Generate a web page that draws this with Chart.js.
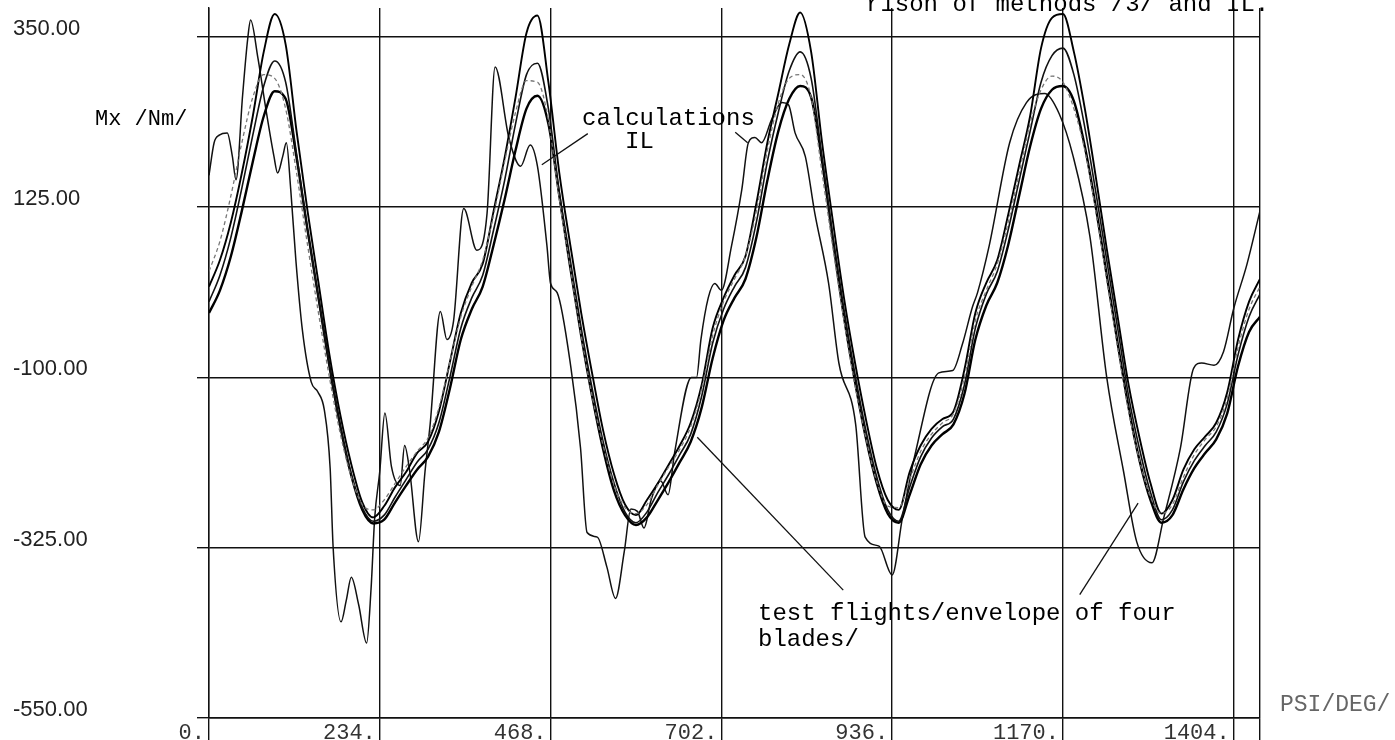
<!DOCTYPE html>
<html>
<head>
<meta charset="utf-8">
<title>Mx /Nm/ - PSI /DEG/</title>
<script src="https://cdn.jsdelivr.net/npm/chart.js@4.4.1/dist/chart.umd.min.js"></script>
<style>
  html, body { margin: 0; padding: 0; background: #fff; }
  #wrap { width: 1395px; height: 740px; position: relative; }
</style>
</head>
<body>
<div id="wrap"><canvas id="mxChart"></canvas></div>
<script>
"use strict";

// azimuth (deg) for the four blade traces of the test flights
const psiGrid = [
  0, 15, 30, 45, 60, 75, 90, 105,
  120, 135, 150, 165, 180, 195, 210, 225,
  240, 255, 270, 285, 300, 315, 330, 345,
  360, 375, 390, 405, 420, 435, 450, 465,
  480, 495, 510, 525, 540, 555, 570, 585,
  600, 615, 630, 645, 660, 675, 690, 705,
  720, 735, 750, 765, 780, 795, 810, 825,
  840, 855, 870, 885, 900, 915, 930, 945,
  960, 975, 990, 1005, 1020, 1035, 1050, 1065,
  1080, 1095, 1110, 1125, 1140, 1155, 1170, 1185,
  1200, 1215, 1230, 1245, 1260, 1275, 1290, 1305,
  1320, 1335, 1350, 1365, 1380, 1395, 1410, 1425,
  1440
];

// test flights / envelope of four blades, Mx in Nm
const bladeA = [
  20, 55, 105, 170, 245, 330, 380, 340,
  225, 120, 25, -70, -150, -215, -265, -285,
  -270, -245, -225, -200, -185, -145, -80, -15,
  25, 50, 120, 190, 270, 355, 378, 290,
  170, 75, -15, -95, -170, -228, -268, -282,
  -262, -240, -215, -190, -160, -110, -35, 5,
  35, 60, 130, 210, 275, 340, 382, 330,
  210, 105, 5, -80, -155, -220, -262, -275,
  -225, -190, -168, -155, -145, -90, -15, 25,
  55, 115, 180, 245, 335, 375, 380, 330,
  255, 165, 70, -20, -110, -180, -240, -280,
  -262, -222, -195, -178, -160, -120, -50, 0,
  30
];
const bladeB = [
  0, 35, 85, 150, 220, 285, 318, 290,
  195, 95, 5, -85, -165, -228, -272, -290,
  -282, -258, -235, -212, -195, -160, -100, -35,
  5, 35, 95, 160, 235, 300, 315, 255,
  145, 55, -35, -115, -185, -240, -278, -292,
  -278, -252, -228, -202, -175, -125, -55, -10,
  20, 45, 105, 185, 250, 305, 330, 295,
  190, 85, -10, -95, -170, -232, -275, -290,
  -245, -205, -180, -165, -155, -110, -35, 10,
  40, 95, 160, 225, 290, 325, 335, 300,
  230, 145, 55, -35, -125, -195, -252, -288,
  -275, -238, -210, -190, -172, -135, -70, -20,
  10
];
const bladeC = [
  40, 80, 140, 210, 270, 300, 295, 255,
  170, 75, -15, -100, -175, -232, -268, -275,
  -262, -240, -218, -198, -180, -140, -80, -20,
  20, 55, 115, 185, 250, 292, 290, 240,
  135, 45, -45, -125, -190, -242, -272, -280,
  -268, -242, -218, -195, -165, -115, -45, 0,
  30, 60, 120, 200, 262, 295, 300, 270,
  170, 70, -25, -110, -180, -238, -270, -272,
  -235, -198, -175, -160, -148, -100, -25, 15,
  50, 105, 170, 235, 280, 298, 290, 255,
  200, 120, 30, -60, -145, -210, -258, -280,
  -268, -232, -202, -182, -165, -128, -60, -10,
  20
];
const bladeD = [
  -15, 15, 60, 120, 185, 245, 278, 268,
  190, 95, 5, -85, -165, -230, -275, -293,
  -288, -265, -243, -222, -205, -172, -115, -50,
  -10, 20, 75, 135, 200, 255, 272, 235,
  140, 45, -45, -125, -195, -250, -282, -295,
  -285, -262, -238, -212, -185, -140, -75, -25,
  5, 30, 85, 160, 225, 268, 285, 270,
  185, 80, -20, -105, -180, -240, -280, -292,
  -255, -215, -190, -175, -162, -122, -50, -5,
  25, 75, 140, 205, 255, 280, 285, 265,
  205, 125, 35, -55, -140, -210, -262, -292,
  -282, -248, -220, -200, -182, -148, -85, -40,
  -20
];

// calculations IL
const ilPsi = [
  0, 7, 14, 25, 32, 37, 46, 53, 57, 67,
  78, 89, 94, 101, 106, 112, 119, 128, 140, 149,
  158, 166, 170, 181, 188, 195, 205, 216, 222, 227,
  234, 241, 250, 262, 268, 275, 287, 296, 303, 317,
  326, 335, 349, 367, 381, 392, 411, 427, 440, 450,
  463, 468, 477, 496, 509, 518, 532, 545, 557, 569,
  578, 587, 596, 606, 619, 629, 638, 661, 668, 674,
  684, 693, 702, 716, 730, 739, 748, 757, 771, 785,
  794, 803, 817, 830, 849, 863, 886, 899, 918, 936,
  950, 968, 1000, 1019, 1032, 1046, 1053, 1069, 1097, 1120,
  1145, 1165, 1184, 1207, 1230, 1253, 1271, 1292, 1308, 1331,
  1349, 1360, 1377, 1390, 1404, 1422, 1440
];
const ilMx = [
  167, 210, 220, 223, 192, 161, 272, 347, 372, 322,
  254, 192, 170, 192, 210, 148, 55, -38, -106, -119,
  -143, -220, -323, -423, -395, -364, -400, -451, -380, -286,
  -224, -147, -218, -243, -190, -224, -317, -224, -162, -13,
  -50, -26, 123, 68, 117, 310, 216, 179, 207, 179,
  74, 24, 12, -88, -193, -305, -311, -350, -392, -330,
  -274, -277, -299, -261, -237, -255, -199, -100, -100, -50,
  5, 24, 15, 74, 148, 210, 217, 210, 241, 263,
  260, 223, 192, 117, 24, -81, -162, -311, -323, -361,
  -286, -199, -94, -91, -57, -7, 12, 74, 210, 263,
  275, 248, 192, 86, -100, -224, -317, -345, -286, -193,
  -88, -81, -84, -66, -9, 49, 120
];

const xTicks = [0, 234, 468, 702, 936, 1170, 1404, 1440];
const yTicks = [-550, -325, -100, 125, 350];

// leader lines [psi1, mx1, psi2, mx2]
const leaders = [
  [519, 222, 456, 181],
  [721, 224, 738, 210],
  [869, -381, 669, -179],
  [1193, -387, 1273, -266]
];

const MONO = '"Liberation Mono", "DejaVu Sans Mono", monospace';

function pts(xs, ys) {
  return xs.map((x, i) => ({ x: x, y: ys[i] }));
}

function line(data, width, color, dash) {
  return {
    data: data,
    borderColor: color,
    borderWidth: width,
    borderDash: dash || [],
    pointRadius: 0,
    cubicInterpolationMode: "monotone",
    fill: false
  };
}

// texts and leader lines drawn on top
const notes = {
  id: "notes",
  afterDatasetsDraw(chart) {
    const { ctx, scales: { x, y } } = chart;
    ctx.save();
    ctx.strokeStyle = "#111";
    ctx.lineWidth = 1.3;
    leaders.forEach(([a, b, c, d]) => {
      ctx.beginPath();
      ctx.moveTo(x.getPixelForValue(a), y.getPixelForValue(b));
      ctx.lineTo(x.getPixelForValue(c), y.getPixelForValue(d));
      ctx.stroke();
    });

    ctx.fillStyle = "#000";
    ctx.textAlign = "left";
    ctx.textBaseline = "alphabetic";
    ctx.font = "24px " + MONO;
    ctx.fillText("calculations", 582, 125);
    ctx.fillText("IL", 625, 148);
    ctx.fillText("test flights/envelope of four", 758, 620);
    ctx.fillText("blades/", 758, 646);
    ctx.fillText("rison of methods /3/ and IL.", 866, 11);

    ctx.font = "22px " + MONO;
    ctx.fillText("Mx /Nm/", 95, 125);

    ctx.fillStyle = "#666";
    ctx.font = "23px " + MONO;
    ctx.fillText("PSI/DEG/", 1280, 711);
    ctx.restore();
  }
};

const ctx = document.getElementById("mxChart").getContext("2d");
const mxChart = new Chart(ctx, {
  type: "line",
  data: {
    datasets: [
      line(pts(psiGrid, bladeC), 1.3, "#777", [4, 3]),
      line(pts(psiGrid, bladeB), 1.6, "#111"),
      line(pts(psiGrid, bladeD), 2.4, "#000"),
      line(pts(psiGrid, bladeA), 1.9, "#000"),
      line(pts(ilPsi, ilMx), 1.5, "#111")
    ]
  },
  options: {
    responsive: true,
    maintainAspectRatio: false,
    animation: false,
    layout: { padding: { left: 13, right: 135, top: 8, bottom: 0 } },
    plugins: {
      legend: { display: false },
      tooltip: { enabled: false }
    },
    scales: {
      x: {
        type: "linear",
        min: 0,
        max: 1440,
        afterBuildTicks: (s) => { s.ticks = xTicks.map((v) => ({ value: v })); },
        afterFit: (s) => {
          s.height = 22;
          s.paddingLeft = 0;
          s.paddingRight = 0;
        },
        grid: { color: "#111", lineWidth: 1.4, tickLength: 22 },
        border: { color: "#111", width: 1.4 },
        ticks: {
          autoSkip: false,
          maxRotation: 0,
          align: "end",
          labelOffset: -4,
          padding: -20,
          color: "#333",
          font: { family: MONO, size: 22 },
          callback: (v) => (v === 1440 ? "" : v + ".")
        }
      },
      y: {
        min: -550,
        max: 388,
        afterBuildTicks: (s) => { s.ticks = yTicks.map((v) => ({ value: v })); },
        afterFit: (s) => {
          s.width = 196;
          s.paddingTop = 0;
          s.paddingBottom = 0;
        },
        grid: { color: "#111", lineWidth: 1.4, tickLength: 12 },
        border: { color: "#111", width: 1.4 },
        ticks: {
          crossAlign: "far",
          labelOffset: -8,
          color: "#222",
          font: { family: '"Liberation Sans Narrow", "Liberation Sans", sans-serif', size: 22 },
          callback: (v) => Number(v).toFixed(2)
        }
      }
    }
  },
  plugins: [notes]
});
</script>
</body>
</html>
